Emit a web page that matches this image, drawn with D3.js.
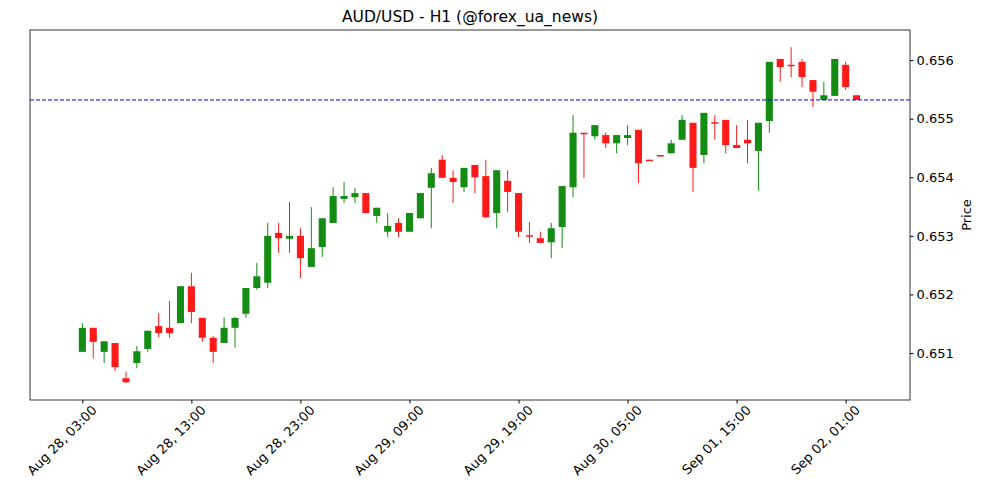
<!DOCTYPE html>
<html><head><meta charset="utf-8">
<script src="https://cdn.jsdelivr.net/npm/d3@7"></script>
<style>body{margin:0;background:#fff;font-family:"DejaVu Sans",sans-serif;}</style>
</head><body>
<script>
// hourly candles, AUD/USD H1 (prices)
var openP  = [0.65102,0.65143,0.65102,0.65117,0.65057,0.65083,0.65107,0.65146,0.65143,0.65151,
  0.65214,0.65160,0.65126,0.65117,0.65143,0.65167,0.65211,0.65220,0.65305,0.65295,
  0.65300,0.65247,0.65281,0.65322,0.65363,0.65366,0.65373,0.65334,0.65307,0.65322,
  0.65307,0.65330,0.65382,0.65430,0.65399,0.65383,0.65421,0.65402,0.65339,0.65394,
  0.65373,0.65301,0.65296,0.65289,0.65315,0.65383,0.65476,0.65470,0.65472,0.65458,
  0.65467,0.65481,0.65430,0.65438,0.65441,0.65464,0.65493,0.65438,0.65494,0.65498,
  0.65455,0.65464,0.65445,0.65496,0.65602,0.65592,0.65597,0.65566,0.65532,0.65539,
  0.65592,0.65540];
var highP  = [0.65151,0.65143,0.65120,0.65117,0.65068,0.65112,0.65138,0.65168,0.65189,0.65214,
  0.65237,0.65160,0.65129,0.65161,0.65161,0.65211,0.65254,0.65322,0.65322,0.65358,
  0.65313,0.65349,0.65330,0.65383,0.65392,0.65382,0.65373,0.65348,0.65339,0.65330,
  0.65339,0.65373,0.65416,0.65438,0.65412,0.65416,0.65421,0.65430,0.65412,0.65412,
  0.65373,0.65324,0.65307,0.65322,0.65385,0.65506,0.65476,0.65489,0.65476,0.65472,
  0.65489,0.65481,0.65430,0.65438,0.65464,0.65506,0.65493,0.65510,0.65506,0.65498,
  0.65489,0.65498,0.65493,0.65597,0.65602,0.65622,0.65602,0.65566,0.65563,0.65602,
  0.65597,0.65540];
var lowP   = [0.65102,0.65091,0.65083,0.65069,0.65049,0.65074,0.65102,0.65127,0.65126,0.65151,
  0.65151,0.65119,0.65083,0.65117,0.65109,0.65160,0.65208,0.65211,0.65271,0.65271,
  0.65228,0.65247,0.65264,0.65322,0.65356,0.65356,0.65339,0.65322,0.65298,0.65298,
  0.65307,0.65330,0.65313,0.65399,0.65356,0.65375,0.65373,0.65330,0.65313,0.65341,
  0.65298,0.65288,0.65288,0.65262,0.65279,0.65366,0.65399,0.65464,0.65450,0.65441,
  0.65455,0.65390,0.65429,0.65436,0.65441,0.65464,0.65375,0.65424,0.65464,0.65441,
  0.65450,0.65424,0.65377,0.65476,0.65563,0.65571,0.65554,0.65520,0.65532,0.65539,
  0.65549,0.65532];
var closeP = [0.65143,0.65119,0.65120,0.65076,0.65050,0.65103,0.65138,0.65134,0.65134,0.65214,
  0.65170,0.65126,0.65102,0.65143,0.65160,0.65211,0.65231,0.65300,0.65296,0.65300,
  0.65262,0.65279,0.65330,0.65368,0.65368,0.65373,0.65339,0.65348,0.65317,0.65307,
  0.65339,0.65373,0.65407,0.65399,0.65392,0.65416,0.65400,0.65332,0.65412,0.65375,
  0.65307,0.65300,0.65288,0.65313,0.65385,0.65476,0.65474,0.65489,0.65458,0.65472,
  0.65472,0.65424,0.65429,0.65436,0.65458,0.65498,0.65416,0.65510,0.65493,0.65455,
  0.65450,0.65458,0.65493,0.65597,0.65588,0.65590,0.65571,0.65546,0.65540,0.65602,
  0.65554,0.65532];
var tickIdx = [0,10,20,30,40,50,60,70];
var tickLabels = ["Aug 28, 03:00","Aug 28, 13:00","Aug 28, 23:00","Aug 29, 09:00",
  "Aug 29, 19:00","Aug 30, 05:00","Sep 01, 15:00","Sep 02, 01:00"];
var priceTicks = [0.651,0.652,0.653,0.654,0.655,0.656];
var lastClose = closeP[closeP.length-1];

var W = 1000, H = 500, m = {top:30, right:90, bottom:100, left:30};
var svg = d3.select('body').append('svg').attr('width', W).attr('height', H);

var x = d3.scaleLinear().domain([-4.8, 75.9]).range([m.left, W - m.right]);
var y = d3.scaleLinear().domain([0.650198, 0.656514]).range([H - m.bottom, m.top]);

var candles = d3.range(openP.length).map(function (i) {
  return {i:i, o:openP[i], h:highP[i], l:lowP[i], c:closeP[i]};
});

var g = svg.append('g');
g.selectAll('line.wick').data(candles).enter().append('line')
  .attr('x1', function (d) { return x(d.i); }).attr('x2', function (d) { return x(d.i); })
  .attr('y1', function (d) { return y(d.h); }).attr('y2', function (d) { return y(d.l); })
  .attr('stroke', function (d) { return d.c >= d.o ? '#148c14' : '#ff1a1a'; })
  .attr('stroke-width', 1);

var bw = x(0.65) - x(0);
g.selectAll('rect').data(candles).enter().append('rect')
  .attr('x', function (d) { return x(d.i) - bw / 2; })
  .attr('width', bw)
  .attr('y', function (d) { return y(Math.max(d.o, d.c)); })
  .attr('height', function (d) { return Math.max(1.5, Math.abs(y(d.o) - y(d.c))); })
  .attr('fill', function (d) { return d.c >= d.o ? '#148c14' : '#ff1a1a'; });

// last price line
svg.append('line')
  .attr('x1', m.left).attr('x2', W - m.right)
  .attr('y1', y(lastClose)).attr('y2', y(lastClose))
  .attr('stroke', '#0000ff').attr('stroke-width', 1).attr('stroke-dasharray', '4,2');

// frame
svg.append('rect').attr('x', m.left).attr('y', m.top)
  .attr('width', W - m.left - m.right).attr('height', H - m.top - m.bottom)
  .attr('fill', 'none').attr('stroke', '#000').attr('stroke-width', 0.8);

var xAxis = svg.append('g').attr('transform', 'translate(0,' + (H - m.bottom) + ')')
  .call(d3.axisBottom(x).tickValues(tickIdx).tickSize(3.5).tickSizeOuter(0)
    .tickFormat(function (d, k) { return tickLabels[k]; }));
xAxis.select('.domain').remove();
xAxis.selectAll('text').attr('font-size', 13).attr('font-family', 'DejaVu Sans')
  .attr('fill', '#000').attr('text-anchor', 'end')
  .attr('transform', 'rotate(-45)').attr('dx', '0.2em').attr('dy', '0.9em');

var yAxis = svg.append('g').attr('transform', 'translate(' + (W - m.right) + ',0)')
  .call(d3.axisRight(y).tickValues(priceTicks).tickSize(3.5).tickSizeOuter(0).tickFormat(d3.format('.3f')));
yAxis.select('.domain').remove();
yAxis.selectAll('text').attr('font-size', 13).attr('font-family', 'DejaVu Sans').attr('fill', '#000');

svg.append('text').attr('x', 971).attr('y', (m.top + H - m.bottom) / 2)
  .attr('transform', 'rotate(-90,971,' + ((m.top + H - m.bottom) / 2) + ')')
  .attr('text-anchor', 'middle').attr('font-size', 13).text('Price');

svg.append('text').attr('x', (m.left + W - m.right) / 2).attr('y', 22)
  .attr('text-anchor', 'middle').attr('font-size', 15.5).text('AUD/USD - H1 (@forex_ua_news)');
</script>
</body></html>
